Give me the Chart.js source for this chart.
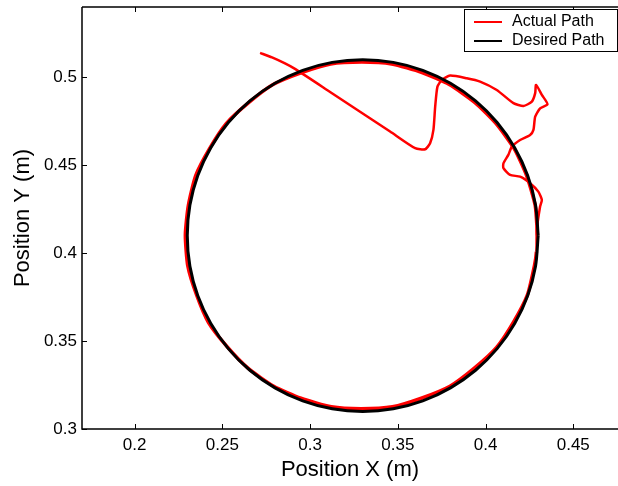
<!DOCTYPE html>
<html>
<head>
<meta charset="utf-8">
<script src="https://cdn.jsdelivr.net/npm/chart.js@4"></script>
<style>
  body { margin: 0; background: #fff; }
  canvas { display: block; }
</style>
</head>
<body>
<canvas id="pathChart" width="618" height="486"></canvas>
<script>
// tick values and labels
const xTicks = [0.2, 0.25, 0.3, 0.35, 0.4, 0.45];
const xTickLabels = ['0.2', '0.25', '0.3', '0.35', '0.4', '0.45'];
const yTicks = [0.3, 0.35, 0.4, 0.45, 0.5];
const yTickLabels = ['0.3', '0.35', '0.4', '0.45', '0.5'];

// actual path: start-up transient, then the tracked circle (clockwise)
const actualX = [
  0.2715, 0.2783, 0.2857, 0.2914, 0.3114, 0.3313, 0.3456, 0.3599, 0.3656, 0.3684,
  0.3703, 0.3713, 0.3726, 0.3751, 0.3798, 0.3893, 0.3969, 0.4064, 0.4159, 0.4216,
  0.4264, 0.4283, 0.4288, 0.4321, 0.4353, 0.4311, 0.4283, 0.4273, 0.4254, 0.4197,
  0.4150, 0.4130, 0.4102, 0.4102, 0.4140, 0.4197, 0.4254, 0.4301, 0.4321, 0.4311,
  0.4292, 0.4290,
  0.4279, 0.4238, 0.4160, 0.4063, 0.3936, 0.3797, 0.3634, 0.3469, 0.3291, 0.3121,
  0.2948, 0.2793, 0.2646, 0.2527, 0.2421, 0.2352, 0.2303, 0.2289, 0.2306, 0.2348,
  0.2426, 0.2523, 0.2650, 0.2789, 0.2952, 0.3117, 0.3295, 0.3465, 0.3638, 0.3793,
  0.3940, 0.4059, 0.4164, 0.4234, 0.4283, 0.4296
];
const actualY = [
  0.5139, 0.5113, 0.5079, 0.5048, 0.4917, 0.4786, 0.4692, 0.4597, 0.4591, 0.4625,
  0.4701, 0.4833, 0.4947, 0.4985, 0.5010, 0.4995, 0.4976, 0.4928, 0.4853, 0.4837,
  0.4862, 0.4910, 0.4957, 0.4900, 0.4847, 0.4824, 0.4776, 0.4701, 0.4672, 0.4644,
  0.4606, 0.4559, 0.4511, 0.4483, 0.4445, 0.4435, 0.4398, 0.4350, 0.4303, 0.4265,
  0.4132, 0.4009,
  0.3931, 0.3761, 0.3609, 0.3464, 0.3346, 0.3243, 0.3175, 0.3126, 0.3115, 0.3126,
  0.3175, 0.3243, 0.3346, 0.3468, 0.3605, 0.3765, 0.3927, 0.4103, 0.4271, 0.4441,
  0.4593, 0.4738, 0.4856, 0.4959, 0.5027, 0.5076, 0.5087, 0.5076, 0.5027, 0.4959,
  0.4856, 0.4738, 0.4593, 0.4441, 0.4271, 0.4101
];
// index where the tracked circle starts (noisier, thicker trace)
const trackingStart = 41;

// desired path: circle about (0.33, 0.41), every 10 degrees
const desiredX = [
  0.4300, 0.4285, 0.4240, 0.4166, 0.4066, 0.3943, 0.3800, 0.3642, 0.3474, 0.3300,
  0.3126, 0.2958, 0.2800, 0.2657, 0.2534, 0.2434, 0.2360, 0.2315, 0.2300, 0.2315,
  0.2360, 0.2434, 0.2534, 0.2657, 0.2800, 0.2958, 0.3126, 0.3300, 0.3474, 0.3642,
  0.3800, 0.3943, 0.4066, 0.4166, 0.4240, 0.4285, 0.4300
];
const desiredY = [
  0.4100, 0.4274, 0.4442, 0.4600, 0.4743, 0.4866, 0.4966, 0.5040, 0.5085, 0.5100,
  0.5085, 0.5040, 0.4966, 0.4866, 0.4743, 0.4600, 0.4442, 0.4274, 0.4100, 0.3926,
  0.3758, 0.3600, 0.3457, 0.3334, 0.3234, 0.3160, 0.3115, 0.3100, 0.3115, 0.3160,
  0.3234, 0.3334, 0.3457, 0.3600, 0.3758, 0.3926, 0.4100
];

const FONT = "'Liberation Sans', Arial, Helvetica, sans-serif";

const toPoints = (xs, ys) => xs.map((x, i) => ({ x: x, y: ys[i] }));

// MATLAB style box: axis lines with inward ticks
const axesBox = {
  id: 'axesBox',
  afterDraw(chart) {
    const { ctx, chartArea: a, scales } = chart;
    ctx.save();
    ctx.strokeStyle = '#000';
    ctx.lineWidth = 1.5;
    ctx.beginPath();
    ctx.moveTo(a.left, a.top);
    ctx.lineTo(a.right, a.top);
    ctx.moveTo(a.left, a.top);
    ctx.lineTo(a.left, a.bottom);
    ctx.lineTo(a.right, a.bottom);
    ctx.stroke();
    ctx.lineWidth = 1;
    ctx.beginPath();
    xTicks.forEach(v => {
      const px = Math.round(scales.x.getPixelForValue(v)) + 0.5;
      ctx.moveTo(px, a.bottom);
      ctx.lineTo(px, a.bottom - 5);
      ctx.moveTo(px, a.top);
      ctx.lineTo(px, a.top + 5);
    });
    yTicks.forEach(v => {
      const py = Math.round(scales.y.getPixelForValue(v)) + 0.5;
      ctx.moveTo(a.left, py);
      ctx.lineTo(a.left + 5, py);
    });
    ctx.stroke();
    ctx.restore();
  }
};

// legend box in the upper right corner
const boxLegend = {
  id: 'boxLegend',
  afterDraw(chart) {
    const ctx = chart.ctx;
    const left = 464, top = 9, width = 153, height = 42;
    ctx.save();
    ctx.fillStyle = '#fff';
    ctx.fillRect(left, top, width, height);
    ctx.strokeStyle = '#000';
    ctx.lineWidth = 1;
    ctx.strokeRect(left + 0.5, top + 0.5, width, height);
    ctx.font = '16px ' + FONT;
    ctx.textBaseline = 'middle';
    chart.data.datasets.forEach((ds, i) => {
      const y = 22 + i * 19;
      ctx.strokeStyle = ds.borderColor;
      ctx.lineWidth = 2;
      ctx.beginPath();
      ctx.moveTo(474, y);
      ctx.lineTo(502, y);
      ctx.stroke();
      ctx.fillStyle = '#000';
      ctx.fillText(ds.label, 512, y);
    });
    ctx.restore();
  }
};

const ctx = document.getElementById('pathChart').getContext('2d');
new Chart(ctx, {
  type: 'scatter',
  data: {
    datasets: [{
      label: 'Actual Path',
      data: toPoints(actualX, actualY),
      showLine: true,
      borderColor: '#ff0000',
      borderWidth: 2.5,
      pointRadius: 0,
      tension: 0.2,
      order: 1,
      segment: {
        borderWidth: c => (c.p0DataIndex >= trackingStart ? 3.5 : 2.5),
      },
    }, {
      label: 'Desired Path',
      data: toPoints(desiredX, desiredY),
      showLine: true,
      borderColor: '#000000',
      borderWidth: 3,
      pointRadius: 0,
      tension: 0.3,
      order: 0,
    }],
  },
  options: {
    responsive: false,
    animation: false,
    layout: { padding: { top: 7, right: 0, left: 0, bottom: 0 } },
    plugins: {
      legend: { display: false },
      tooltip: { enabled: false },
    },
    scales: {
      x: {
        type: 'linear',
        min: 0.17,
        max: 0.4755,
        grid: { display: false, drawTicks: false },
        border: { display: false },
        afterBuildTicks: s => { s.ticks = xTicks.map(v => ({ value: v })); },
        afterFit: s => { s.height = 57; s.paddingLeft = 0; s.paddingRight = 0; },
        ticks: {
          padding: 6,
          color: '#000',
          autoSkip: false,
          maxRotation: 0,
          font: { family: FONT, size: 17 },
          callback: (v, i) => xTickLabels[i],
        },
        title: {
          display: true,
          text: 'Position X (m)',
          color: '#000',
          font: { family: FONT, size: 22 },
          padding: { top: 0, bottom: 3 },
        },
      },
      y: {
        type: 'linear',
        min: 0.3,
        max: 0.54,
        grid: { display: false, drawTicks: false },
        border: { display: false },
        afterBuildTicks: s => { s.ticks = yTicks.map(v => ({ value: v })); },
        afterFit: s => { s.width = 82; s.paddingTop = 0; s.paddingBottom = 0; },
        ticks: {
          padding: 5,
          color: '#000',
          autoSkip: false,
          font: { family: FONT, size: 17 },
          callback: (v, i) => yTickLabels[i],
        },
        title: {
          display: true,
          text: 'Position Y (m)',
          color: '#000',
          font: { family: FONT, size: 22 },
          padding: { top: 10, bottom: 0 },
        },
      },
    },
  },
  plugins: [axesBox, boxLegend],
});
</script>
</body>
</html>
